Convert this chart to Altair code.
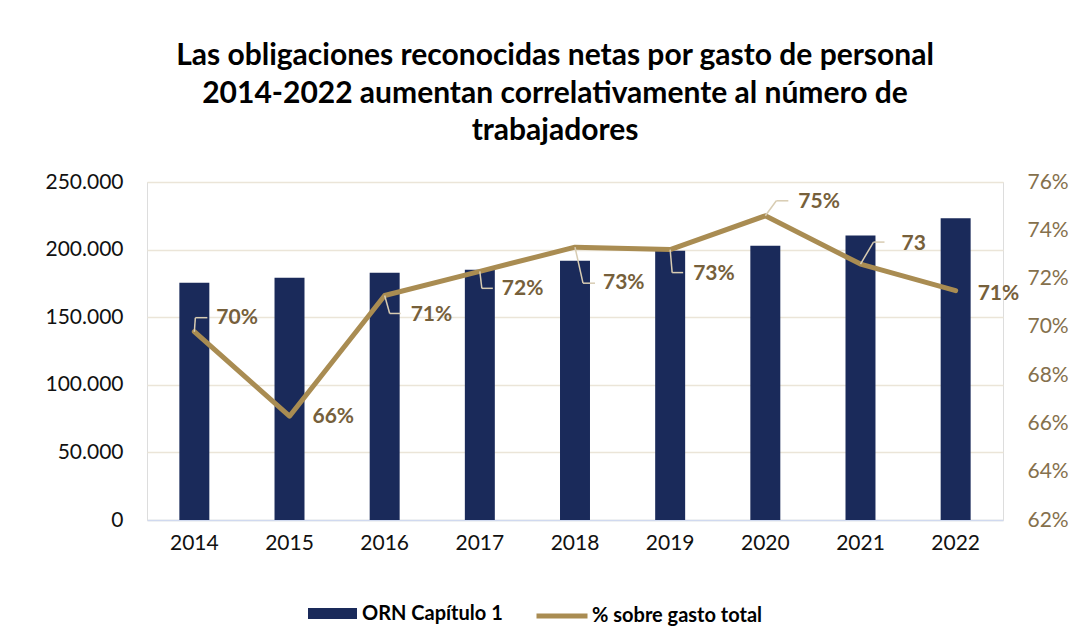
import altair as alt
import pandas as pd

years = ["2014", "2015", "2016", "2017", "2018", "2019", "2020", "2021", "2022"]
orn = [175500, 179200, 182900, 185100, 191700, 199100, 202800, 210400, 223200]
pct = [0.698, 0.663, 0.713, 0.723, 0.733, 0.732, 0.746, 0.726, 0.715]
pct_labels = ["70%", "66%", "71%", "72%", "73%", "73%", "75%", "73", "71%"]

df = pd.DataFrame({"year": years, "orn": orn, "pct": pct, "label": pct_labels,
                   "s1": "ORN Capítulo 1", "s2": "% sobre gasto total"})

# label layout (pixel offsets from each point)
label_dx = [22, 23, 26, 22, 28, 23, 33, 41, 22]
label_dy = [-14, 1, 20, 18, 36, 24, -14, -20, 3]
# leader segments: (x1, y1, x2, y2) offsets relative to point
leaders = {
    "2014": [(0, 0, 1, -14), (1, -14, 13, -14)],
    "2016": [(0, 0, 5, 18), (5, 18, 16, 18)],
    "2017": [(0, 0, 2, 17), (2, 17, 13, 17)],
    "2018": [(0, 0, 8, 36), (8, 36, 20, 36)],
    "2019": [(0, 0, 2, 23), (2, 23, 13, 23)],
    "2020": [(0, 0, 11, -15), (11, -15, 23, -15)],
    "2021": [(0, 0, 13, -22), (13, -22, 24, -22)],
}

NAVY = "#1a2a5a"
GOLD = "#a98c52"
LBL = "#76603b"
FONT = "Lato"

base = alt.Chart(df)
xenc = alt.X("year:N", title=None, sort=years,
             scale=alt.Scale(paddingInner=0.685, paddingOuter=0.34),
             axis=alt.Axis(labelAngle=0, labelFontSize=21, labelColor="#111111", labelFont=FONT,
                           ticks=False, domainColor="#d0d9ef", domainWidth=1.5, labelPadding=12))

bars = base.mark_bar().encode(
    x=xenc,
    y=alt.Y("orn:Q", title=None, scale=alt.Scale(domain=[0, 250000]),
            axis=alt.Axis(values=[0, 50000, 100000, 150000, 200000, 250000],
                          labelExpr="replace(format(datum.value, ','), ',', '.')",
                          labelFontSize=21, labelColor="#111111", labelFont=FONT,
                          ticks=False, domain=False, labelPadding=24,
                          gridColor="#ebe5d8", gridWidth=1.5)),
    fill=alt.Fill("s1:N", scale=alt.Scale(range=[NAVY]),
                  legend=alt.Legend(title=None, orient="none", legendX=161, legendY=407,
                                    symbolType="M-1,-0.2245H1V0.2245H-1Z", symbolSize=2401,
                                    symbolStrokeWidth=0, labelFontSize=20, labelFont=FONT,
                                    labelFontWeight="bold", labelColor="#000000", labelLimit=400,
                                    labelOffset=5, padding=0)),
)

yaxis_r = alt.Axis(orient="right", values=[0.62, 0.64, 0.66, 0.68, 0.70, 0.72, 0.74, 0.76],
                   format=".0%", labelFontSize=21, labelColor="#85704c", labelFont=FONT,
                   ticks=False, domain=False, grid=False, labelPadding=24)
yp = alt.Y("pct:Q", title=None, scale=alt.Scale(domain=[0.62, 0.76]), axis=yaxis_r)

line = base.mark_line(strokeWidth=5, strokeCap="round", strokeJoin="round").encode(
    x=alt.X("year:N", sort=years),
    y=yp,
    stroke=alt.Stroke("s2:N", scale=alt.Scale(range=[GOLD]),
                      legend=alt.Legend(title=None, orient="none", legendX=387, legendY=406,
                                        symbolType="stroke", symbolSize=2601, symbolStrokeWidth=5,
                                        labelFontSize=20, labelFont=FONT, labelFontWeight="bold",
                                        labelColor="#000000", labelLimit=400,
                                        labelOffset=2, padding=0)),
)

layers = [line]
for yr, segs in leaders.items():
    for (x1, y1, x2, y2) in segs:
        layers.append(
            base.mark_rule(color="#d8ccb2", strokeWidth=1.5,
                           xOffset=x1, yOffset=y1, x2Offset=x2, y2Offset=y2)
            .encode(x=alt.X("year:N", sort=years), x2="year:N", y=yp, y2="pct:Q")
            .transform_filter(alt.datum.year == yr)
        )
for i, yr in enumerate(years):
    layers.append(
        base.mark_text(align="left", baseline="middle", dx=label_dx[i], dy=label_dy[i],
                       fontSize=21, fontWeight="bold", font=FONT, color=LBL)
        .encode(x=alt.X("year:N", sort=years), y=yp, text="label:N")
        .transform_filter(alt.datum.year == yr)
    )

right = alt.layer(*layers)

chart = alt.layer(bars, right).resolve_scale(y="independent", fill="independent", stroke="independent").properties(
    width=856, height=338,
    title=alt.TitleParams(
        ["Las obligaciones reconocidas netas por gasto de personal",
         "2014-2022 aumentan correlativamente al número de",
         "trabajadores"],
        fontSize=30, font=FONT, fontWeight="bold", color="#000000",
        anchor="middle", lineHeight=37.5, offset=25, dx=-20),
    padding={"left": 139, "top": 174, "right": 73, "bottom": 115},
    autosize=alt.AutoSizeParams(type="none"),
).configure_view(stroke=None).configure(background="white")

chart.save("out.html", embed_options={"renderer": "svg", "actions": False})
